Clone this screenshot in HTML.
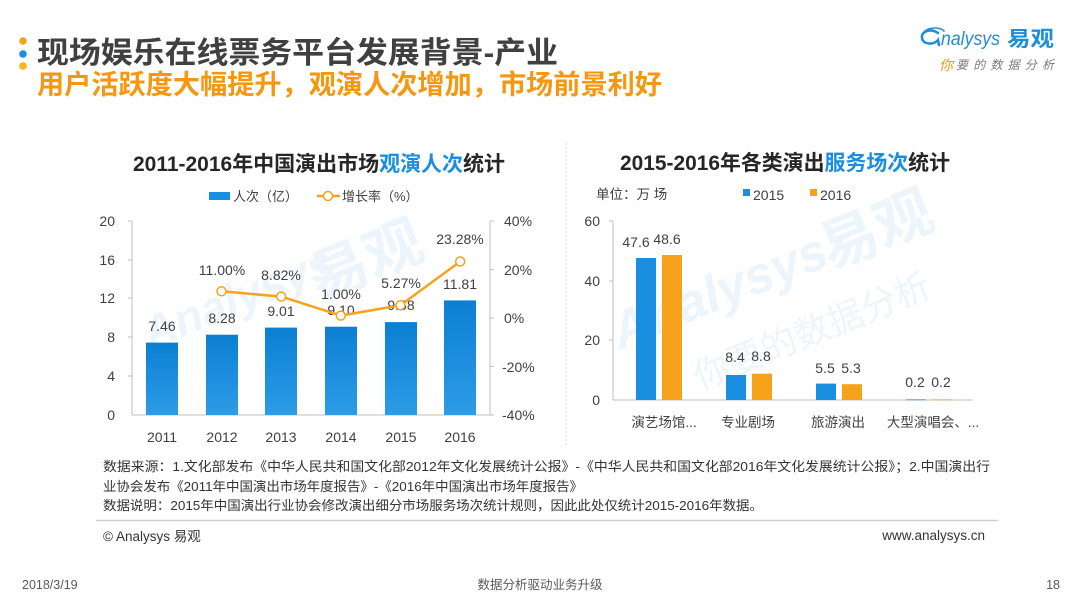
<!DOCTYPE html>
<html><head><meta charset="utf-8">
<style>
html,body{margin:0;padding:0;background:#fff;}
svg{display:block;}
text{font-family:"Liberation Sans","Noto Sans CJK SC",sans-serif;}
</style></head>
<body>
<svg width="1080" height="608" viewBox="0 0 1080 608" xmlns="http://www.w3.org/2000/svg">
<defs>
<linearGradient id="bg" x1="0" y1="0" x2="0" y2="1">
<stop offset="0" stop-color="#0c7fd3"/>
<stop offset="1" stop-color="#2c9ce6"/>
</linearGradient>
</defs>
<rect width="1080" height="608" fill="#fff"/>

<!-- header dots -->
<circle cx="23" cy="41" r="3.8" fill="#f7a21b"/>
<circle cx="23" cy="54" r="3.8" fill="#1a8ee0"/>
<circle cx="23" cy="66" r="3.8" fill="#f5b70f"/>

<!-- titles -->
<text x="37" y="63" font-size="30" font-weight="bold" fill="#404040" textLength="521" lengthAdjust="spacingAndGlyphs">现场娱乐在线票务平台发展背景-产业</text>
<text x="37" y="94" font-size="27" font-weight="bold" fill="#f7960f" textLength="625" lengthAdjust="spacingAndGlyphs">用户活跃度大幅提升，观演人次增加，市场前景利好</text>

<!-- logo -->
<path d="M938 33 C 931 28, 921 31, 922 38 C 923 45, 934 45, 938 40 L 939 45" fill="none" stroke="#1f8ed8" stroke-width="2.6" stroke-linecap="round"/>
<path d="M925 31 C 930 27, 940 27, 944 31" fill="none" stroke="#1f8ed8" stroke-width="1.6" stroke-linecap="round"/>
<text x="941" y="45" font-size="19" font-style="italic" fill="#1f8ed8" textLength="59" lengthAdjust="spacingAndGlyphs">nalysys</text>
<text x="1007" y="46" font-size="21" font-weight="bold" fill="#1f8ed8" textLength="47" lengthAdjust="spacingAndGlyphs">易观</text>
<text x="939" y="70" font-size="14" fill="#f7960f" font-style="italic">你</text>
<text x="956" y="69" font-size="12" fill="#7a7a7a" textLength="98" lengthAdjust="spacing" font-style="italic">要的数据分析</text>

<!-- separator -->
<line x1="566" y1="143" x2="566" y2="445" stroke="#d9d9d9" stroke-width="1" stroke-dasharray="2 2"/>

<!-- watermarks -->
<g fill="#edf5fc" font-weight="bold">
<text x="150" y="350" font-size="46" transform="rotate(-22 150 350)" font-style="italic">Analysys</text>
<text x="320" y="300" font-size="58" transform="rotate(-22 320 300)">易观</text>
<text x="620" y="350" font-size="52" transform="rotate(-22 620 350)" font-style="italic">Analysys</text>
<text x="830" y="270" font-size="58" transform="rotate(-22 830 270)">易观</text>
<text x="700" y="390" font-size="36" transform="rotate(-22 700 390)" font-weight="normal">你要的数据分析</text>
</g>

<!-- ===== LEFT CHART ===== -->
<text x="133" y="171" font-size="21" font-weight="bold" fill="#262626" textLength="372" lengthAdjust="spacingAndGlyphs">2011-2016年中国演出市场<tspan fill="#1a8ee0">观演人次</tspan>统计</text>

<!-- legend -->
<rect x="209" y="192" width="21" height="8" fill="#1a8ee0"/>
<text x="233" y="201" font-size="13" fill="#404040">人次（亿）</text>
<line x1="317" y1="196" x2="340" y2="196" stroke="#f7a21b" stroke-width="2.5"/>
<circle cx="328" cy="196" r="4.5" fill="#fff" stroke="#f7a21b" stroke-width="1.5"/>
<text x="342" y="201" font-size="13" fill="#404040">增长率（%）</text>

<!-- axes -->
<g stroke="#bfbfbf" stroke-width="1">
<line x1="132" y1="221" x2="132" y2="415"/>
<line x1="490" y1="221" x2="490" y2="415"/>
<line x1="132" y1="415" x2="490" y2="415"/>
<line x1="128" y1="221" x2="132" y2="221"/>
<line x1="128" y1="260" x2="132" y2="260"/>
<line x1="128" y1="298" x2="132" y2="298"/>
<line x1="128" y1="337" x2="132" y2="337"/>
<line x1="128" y1="376" x2="132" y2="376"/>
<line x1="490" y1="221" x2="494" y2="221"/>
<line x1="490" y1="269.5" x2="494" y2="269.5"/>
<line x1="490" y1="318" x2="494" y2="318"/>
<line x1="490" y1="366.5" x2="494" y2="366.5"/>
<line x1="490" y1="415" x2="494" y2="415"/>
</g>
<g font-size="14" fill="#404040" text-anchor="end">
<text x="115" y="226">20</text>
<text x="115" y="265">16</text>
<text x="115" y="303">12</text>
<text x="115" y="342">8</text>
<text x="115" y="381">4</text>
<text x="115" y="420">0</text>
</g>
<g font-size="14" fill="#404040">
<text x="504" y="226">40%</text>
<text x="504" y="275">20%</text>
<text x="504" y="323">0%</text>
<text x="502" y="372">-20%</text>
<text x="502" y="420">-40%</text>
</g>

<!-- bars -->
<g fill="url(#bg)">
<rect x="146" y="342.6" width="32" height="72.4"/>
<rect x="206" y="334.7" width="32" height="80.3"/>
<rect x="265" y="327.6" width="32" height="87.4"/>
<rect x="325" y="326.7" width="32" height="88.3"/>
<rect x="385" y="322.1" width="32" height="92.9"/>
<rect x="444" y="300.4" width="32" height="114.6"/>
</g>
<g font-size="14" fill="#404040" text-anchor="middle">
<text x="162" y="331">7.46</text>
<text x="222" y="323">8.28</text>
<text x="281" y="316">9.01</text>
<text x="341" y="315">9.10</text>
<text x="401" y="310">9.58</text>
<text x="460" y="289">11.81</text>
</g>

<!-- line -->
<polyline points="221.5,291.3 281.2,296.6 340.8,315.6 400.5,305.2 460.2,261.5" fill="none" stroke="#f7a21b" stroke-width="2.5" stroke-linejoin="round"/>
<g fill="#fff" stroke="#f7a21b" stroke-width="1.5">
<circle cx="221.5" cy="291.3" r="4.5"/>
<circle cx="281.2" cy="296.6" r="4.5"/>
<circle cx="340.8" cy="315.6" r="4.5"/>
<circle cx="400.5" cy="305.2" r="4.5"/>
<circle cx="460.2" cy="261.5" r="4.5"/>
</g>
<g font-size="14" fill="#404040" text-anchor="middle">
<text x="222" y="275">11.00%</text>
<text x="281" y="280">8.82%</text>
<text x="341" y="299">1.00%</text>
<text x="401" y="288">5.27%</text>
<text x="460" y="244">23.28%</text>
</g>

<!-- years -->
<g font-size="14" fill="#404040" text-anchor="middle">
<text x="162" y="442">2011</text>
<text x="222" y="442">2012</text>
<text x="281" y="442">2013</text>
<text x="341" y="442">2014</text>
<text x="401" y="442">2015</text>
<text x="460" y="442">2016</text>
</g>

<!-- ===== RIGHT CHART ===== -->
<text x="620" y="170" font-size="21" font-weight="bold" fill="#262626" textLength="330" lengthAdjust="spacingAndGlyphs">2015-2016年各类演出<tspan fill="#1a8ee0">服务场次</tspan>统计</text>
<text x="596" y="199" font-size="13.5" fill="#404040">单位：万 场</text>
<rect x="743" y="189" width="7" height="7" fill="#1a8ee0"/>
<text x="753" y="200" font-size="14" fill="#404040">2015</text>
<rect x="810" y="189" width="7" height="7" fill="#f7a21b"/>
<text x="820" y="200" font-size="14" fill="#404040">2016</text>

<g stroke="#bfbfbf" stroke-width="1">
<line x1="613" y1="221" x2="613" y2="400"/>
<line x1="613" y1="400" x2="973" y2="400"/>
<line x1="609" y1="221" x2="613" y2="221"/>
<line x1="609" y1="281" x2="613" y2="281"/>
<line x1="609" y1="340" x2="613" y2="340"/>
</g>
<g font-size="14" fill="#404040" text-anchor="end">
<text x="600" y="226">60</text>
<text x="600" y="286">40</text>
<text x="600" y="345">20</text>
<text x="600" y="405">0</text>
</g>

<g fill="#1a8ee0">
<rect x="636" y="258" width="20" height="142"/>
<rect x="726" y="375" width="20" height="25"/>
<rect x="816" y="383.6" width="20" height="16.4"/>
<rect x="906" y="399.4" width="20" height="0.8"/>
</g>
<g fill="#f7a21b">
<rect x="662" y="255" width="20" height="145"/>
<rect x="752" y="373.7" width="20" height="26.3"/>
<rect x="842" y="384.2" width="20" height="15.8"/>
<rect x="932" y="399.4" width="20" height="0.8"/>
</g>
<g font-size="14" fill="#404040" text-anchor="middle">
<text x="636" y="247">47.6</text>
<text x="667" y="244">48.6</text>
<text x="735" y="362">8.4</text>
<text x="761" y="361">8.8</text>
<text x="825" y="373">5.5</text>
<text x="851" y="373">5.3</text>
<text x="915" y="387">0.2</text>
<text x="941" y="387">0.2</text>
</g>
<g font-size="13.5" fill="#404040" text-anchor="middle">
<text x="664" y="427">演艺场馆...</text>
<text x="748" y="427">专业剧场</text>
<text x="838" y="427">旅游演出</text>
<text x="933" y="427">大型演唱会、...</text>
</g>

<!-- sources -->
<g font-size="13" fill="#333">
<text x="103" y="471" textLength="887" lengthAdjust="spacingAndGlyphs">数据来源：1.文化部发布《中华人民共和国文化部2012年文化发展统计公报》-《中华人民共和国文化部2016年文化发展统计公报》；2.中国演出行</text>
<text x="103" y="491" textLength="480" lengthAdjust="spacingAndGlyphs">业协会发布《2011年中国演出市场年度报告》-《2016年中国演出市场年度报告》</text>
<text x="103" y="510" textLength="660" lengthAdjust="spacingAndGlyphs">数据说明：2015年中国演出行业协会修改演出细分市场服务场次统计规则，因此此处仅统计2015-2016年数据。</text>
</g>
<line x1="96" y1="520.5" x2="998" y2="520.5" stroke="#cfcfcf" stroke-width="1.5"/>
<text x="103" y="541" font-size="13.5" fill="#333">© Analysys 易观</text>
<text x="985" y="540" font-size="13.5" fill="#333" text-anchor="end">www.analysys.cn</text>

<!-- bottom -->
<text x="22" y="589" font-size="12.5" fill="#595959">2018/3/19</text>
<text x="540" y="589" font-size="12.5" fill="#595959" text-anchor="middle">数据分析驱动业务升级</text>
<text x="1060" y="589" font-size="12.5" fill="#595959" text-anchor="end">18</text>
</svg>
</body></html>
